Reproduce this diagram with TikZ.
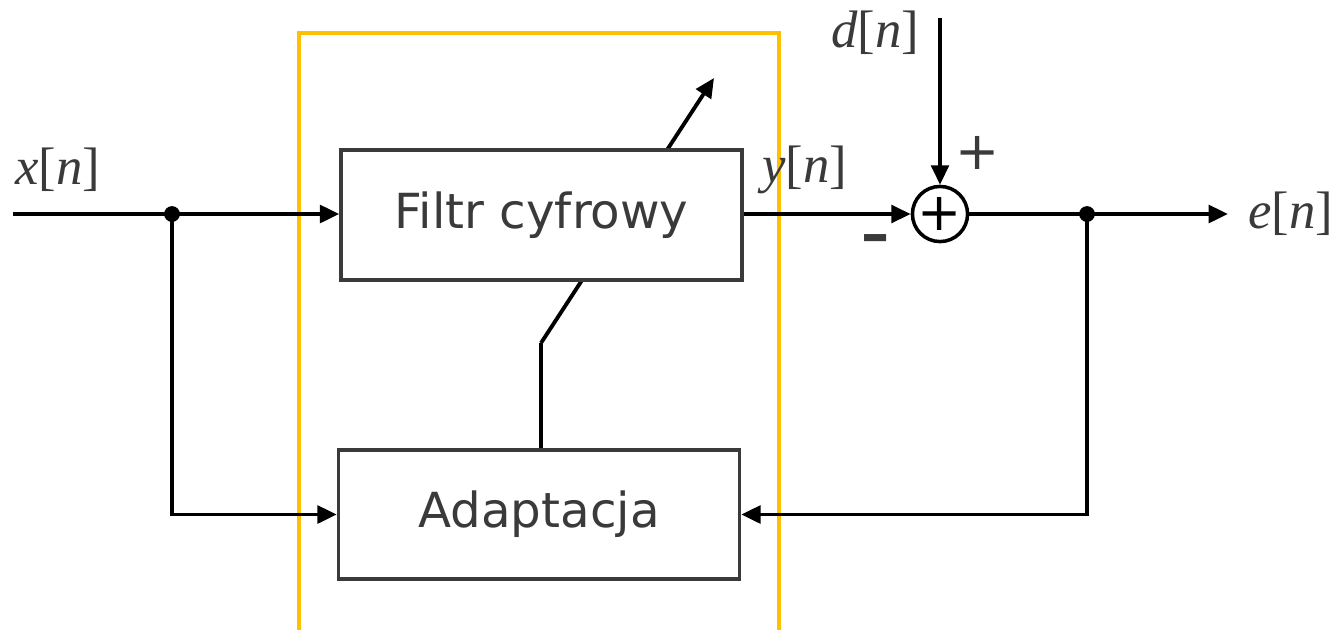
\documentclass[tikz,border=0pt]{standalone}
\usepackage{fontspec}
\setmainfont{Liberation Serif}
\newfontfamily\boxfont{DejaVu Sans}
\usetikzlibrary{arrows.meta,backgrounds}
\definecolor{frameyellow}{HTML}{FFC000}
\definecolor{boxgray}{HTML}{3A3A3A}
\newcommand{\signal}[1]{\textit{#1}[\textit{n}]}
\begin{document}
\begin{tikzpicture}[
			x=0.02cm, y=-0.02cm,
			block/.style={draw=boxgray, line width=2pt, fill=white, text=boxgray, minimum width=8.02cm, minimum height=2.6cm, font=\boxfont\fontsize{27.5}{30}\selectfont},
			summer/.style={draw, circle, line width=2pt, minimum size=1.04cm, inner sep=0pt, font=\boxfont\fontsize{30}{30}\selectfont},
			junction/.style={circle, fill, inner sep=0pt, minimum size=9pt},
			label/.style={inner sep=0pt, text=boxgray, font=\fontsize{30}{34}\selectfont},
			sign/.style={inner sep=0pt, text=boxgray, font=\boxfont\fontsize{30}{30}\selectfont},
			signal/.style={line width=2.2pt, -{Triangle[length=11pt, width=10pt]}},
			wire/.style={line width=2.2pt}
		]
		\useasboundingbox (0,0) rectangle (1335,630);
		\draw[frameyellow, line width=2.2pt] (299,630) -- (299,33) -- (779,33) -- (779,630);
		\node[block] (filtr) at (541.5,215) {Filtr cyfrowy};
		\node[block, minimum height=2.58cm] (adapt) at (539,514.5) {Adaptacja};
		\node[summer] (sum) at (940,214) {+};
		\node[junction] (xdot) at (172,214) {};
		\node[junction] (edot) at (1087,214) {};
		\coordinate (in) at (13,214);
		\coordinate (out) at (1228,214);
		\coordinate (dtop) at (940,18);
		\coordinate (bend) at (541,343);
		\coordinate (tip) at (714,78);
		\node[label] (xlab) at (58,170) {\signal{x}};
		\node[label] (ylab) at (805,170) {\signal{y}};
		\node[label] (dlab) at (875,33) {\signal{d}};
		\node[label] (elab) at (1291,214) {\signal{e}};
		\node[sign] (plus) at (978,153) {+};
		\node[sign, font=\boxfont\bfseries\fontsize{32}{32}\selectfont] (minus) at (876,244) {–};
		\draw[signal] (in) -- (in -| filtr.west);
		\draw[signal] (xdot.center) |- (adapt.west);
		\draw[signal] (sum.west -| filtr.east) -- (sum.west);
		\draw[signal] (dtop) -- (sum.north);
		\draw[signal] (sum.east) -- (out);
		\draw[signal] (edot.center) |- (adapt.east);
		\begin{scope}[on background layer]
			\draw[wire] (bend |- adapt.north) -- (bend);
			\draw[signal] (bend) -- (tip);
		\end{scope}
	\end{tikzpicture}
\end{document}
